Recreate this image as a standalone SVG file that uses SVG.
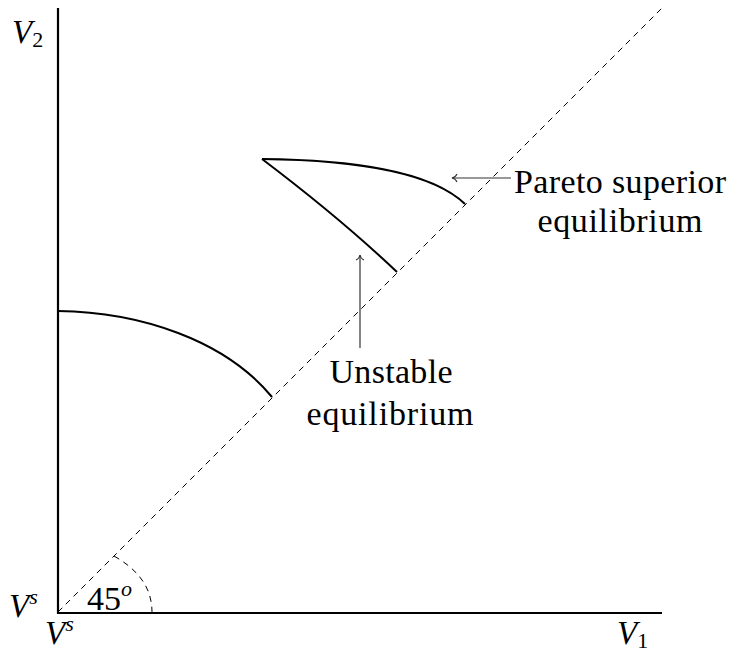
<svg xmlns="http://www.w3.org/2000/svg" width="731" height="655" viewBox="0 0 731 655">
<style>
.axis{stroke:#000;stroke-width:2.2;fill:none}
.dash{stroke:#000;stroke-width:1;fill:none;stroke-dasharray:6 5}
.curve{stroke:#000;stroke-width:2;fill:none;stroke-linecap:butt}
.arrow{stroke:#333;stroke-width:1.2;fill:none;marker-end:url(#to)}
text{font-family:"Liberation Serif","DejaVu Serif",serif;fill:#000}
.lbl{font-size:34px}
.math{font-size:33px;font-style:italic}
.sub{font-size:22px}
</style>
<defs>
<marker id="to" viewBox="-6 -5 8 10" markerWidth="8" markerHeight="10" refX="0" refY="0" orient="auto" markerUnits="userSpaceOnUse">
<path d="M-5,-4 C-4,-1.5 -1.5,-0.3 0,0 C-1.5,0.3 -4,1.5 -5,4" stroke="#333" stroke-width="1.1" fill="none"/>
</marker>
</defs>
<g id="axes">
<path class="axis" d="M58,8 V613 H662"/>
</g>
<g id="diagonal">
<path class="dash" d="M58,612 L662,8"/>
<path class="dash" d="M114,556 C135,568 152,585 152,612"/>
</g>
<g id="lower-curve">
<path class="curve" d="M58,311 C140,312 225,340 272,397"/>
</g>
<g id="upper-region">
<path class="curve" d="M262,159 C350,160 430,170 465,204"/>
<path class="curve" d="M262,159 Q340,218 397,272"/>
</g>
<g id="connectors">
<path class="arrow" d="M511,178 H452"/>
<path class="arrow" d="M360,348 V255"/>
</g>
<g id="labels">
<text class="math" x="12" y="43">V<tspan class="sub" font-style="normal" dy="4">2</tspan></text>
<text class="math" x="9" y="617">V<tspan class="sub" dy="-13">s</tspan></text>
<text class="math" x="45" y="644">V<tspan class="sub" dy="-13">s</tspan></text>
<text class="math" x="617" y="644">V<tspan class="sub" font-style="normal" dy="4">1</tspan></text>
<text class="lbl" x="87" y="610">45<tspan class="sub" font-style="italic" dy="-14">o</tspan></text>
</g>
<g id="pareto-label">
<text class="lbl" x="620" y="193" text-anchor="middle" textLength="212">Pareto superior</text>
<text class="lbl" x="620" y="232" text-anchor="middle" textLength="165">equilibrium</text>
</g>
<g id="unstable-label">
<text class="lbl" x="391" y="383" text-anchor="middle" textLength="123">Unstable</text>
<text class="lbl" x="390" y="425" text-anchor="middle" textLength="167">equilibrium</text>
</g>
</svg>
